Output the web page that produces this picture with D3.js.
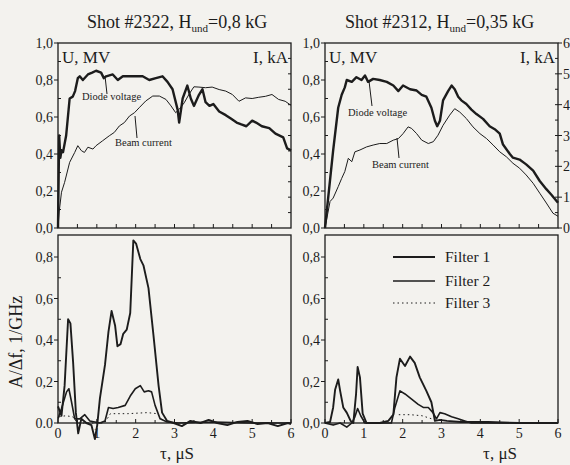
<!DOCTYPE html>
<html>
<head>
<meta charset="utf-8">
<script src="https://cdn.jsdelivr.net/npm/d3@7"></script>
<style>
  body { margin: 0; background: #f3f2ee; }
  text { font-family: "Liberation Serif", "Times New Roman", serif; fill: #1c1c1c; }
</style>
</head>
<body>
<svg id="chart" width="570" height="465"></svg>
<script>
// shot #2322 (H_und = 0,8 kG): [tau us, U MV] and [tau us, I kA]
var volt2322 = [[0,0],[0.03,0.5],[0.06,0.38],[0.09,0.42],[0.13,0.41],[0.21,0.5],[0.3,0.7],[0.38,0.71],[0.44,0.74],[0.51,0.81],[0.56,0.82],[0.64,0.8],[0.77,0.83],[0.88,0.84],[0.98,0.85],[1.11,0.84],[1.18,0.81],[1.24,0.82],[1.41,0.83],[1.54,0.8],[1.67,0.82],[1.84,0.82],[2.01,0.82],[2.18,0.82],[2.35,0.8],[2.52,0.81],[2.69,0.82],[2.82,0.79],[2.95,0.75],[3.08,0.64],[3.12,0.57],[3.21,0.7],[3.33,0.77],[3.42,0.7],[3.5,0.66],[3.63,0.72],[3.72,0.75],[3.8,0.68],[3.9,0.66],[4.0,0.67],[4.15,0.63],[4.32,0.61],[4.46,0.59],[4.6,0.57],[4.72,0.56],[4.85,0.55],[5.0,0.58],[5.1,0.57],[5.25,0.55],[5.44,0.54],[5.6,0.51],[5.8,0.49],[5.9,0.43],[6.0,0.42]];
var curr2322 = [[0,0],[0.03,0.52],[0.09,1.16],[0.17,1.48],[0.3,2.13],[0.43,2.45],[0.51,2.67],[0.6,2.51],[0.68,2.45],[0.77,2.62],[0.9,2.56],[0.98,2.67],[1.15,2.83],[1.32,2.99],[1.45,3.1],[1.58,3.31],[1.71,3.42],[1.84,3.63],[1.97,3.74],[2.09,3.9],[2.26,4.12],[2.44,4.28],[2.61,4.28],[2.78,4.17],[2.91,3.96],[3.03,3.74],[3.12,3.85],[3.25,4.06],[3.38,4.35],[3.5,4.58],[3.63,4.57],[3.8,4.55],[3.97,4.57],[4.15,4.49],[4.32,4.44],[4.49,4.33],[4.66,4.11],[4.83,4.22],[5.0,4.2],[5.17,4.24],[5.34,4.27],[5.51,4.33],[5.68,4.17],[5.85,4.11],[6.0,3.98]];

// shot #2312 (H_und = 0,35 kG)
var volt2312 = [[0,0],[0.21,0.42],[0.34,0.65],[0.43,0.72],[0.51,0.76],[0.56,0.8],[0.69,0.79],[0.81,0.815],[0.94,0.8],[1.03,0.824],[1.11,0.79],[1.24,0.806],[1.41,0.8],[1.59,0.79],[1.76,0.77],[1.89,0.74],[2.01,0.77],[2.19,0.75],[2.36,0.743],[2.49,0.72],[2.61,0.71],[2.74,0.65],[2.83,0.58],[2.89,0.55],[2.96,0.58],[3.04,0.69],[3.17,0.74],[3.26,0.77],[3.34,0.75],[3.43,0.71],[3.51,0.69],[3.64,0.67],[3.77,0.64],[3.9,0.616],[4.07,0.59],[4.24,0.55],[4.37,0.534],[4.5,0.51],[4.58,0.453],[4.76,0.4],[4.84,0.38],[5.01,0.37],[5.18,0.344],[5.36,0.31],[5.53,0.254],[5.7,0.21],[5.83,0.18],[6.0,0.136]];
var curr2312 = [[0,0],[0.13,0.86],[0.21,0.97],[0.34,1.34],[0.43,1.61],[0.51,1.83],[0.6,2.26],[0.69,2.15],[0.77,2.47],[0.9,2.53],[1.07,2.63],[1.24,2.69],[1.41,2.74],[1.59,2.74],[1.76,2.85],[1.89,2.9],[2.01,3.06],[2.14,3.28],[2.23,3.23],[2.36,3.06],[2.49,2.85],[2.66,2.74],[2.79,2.8],[2.91,3.01],[3.04,3.33],[3.21,3.66],[3.34,3.87],[3.47,3.76],[3.64,3.55],[3.81,3.28],[3.99,3.06],[4.16,2.9],[4.33,2.69],[4.5,2.47],[4.67,2.31],[4.84,2.1],[5.01,1.94],[5.18,1.72],[5.36,1.45],[5.53,1.13],[5.7,0.81],[5.87,0.48],[6.0,0.38]];

// microwave signals A/df, 1/GHz
var filt1_2322 = [[0,0.08],[0.09,0.035],[0.17,0.18],[0.26,0.5],[0.32,0.48],[0.39,0.29],[0.46,0.05],[0.52,-0.05],[0.6,0.02],[0.73,0.0],[0.86,-0.01],[0.95,-0.077],[1.01,-0.01],[1.08,0.12],[1.21,0.28],[1.3,0.44],[1.38,0.54],[1.47,0.47],[1.53,0.37],[1.61,0.38],[1.68,0.43],[1.77,0.45],[1.86,0.53],[1.94,0.88],[2.01,0.865],[2.12,0.79],[2.2,0.76],[2.33,0.65],[2.46,0.42],[2.59,0.18],[2.68,0.05],[2.81,0.01],[2.98,0.0],[3.19,-0.015],[3.41,0.01],[3.67,0.0],[3.88,0.015],[4.1,0.0],[4.36,-0.01],[4.62,0.005],[4.88,0.01],[5.14,-0.005],[5.4,0.0],[5.66,-0.015],[5.92,0.0],[6.0,-0.005]];
var filt2_2322 = [[0,0.02],[0.09,0.07],[0.22,0.15],[0.28,0.165],[0.35,0.1],[0.43,0.02],[0.56,0.02],[0.69,0.04],[0.82,0.01],[1.08,0.0],[1.21,0.01],[1.3,0.075],[1.42,0.07],[1.55,0.075],[1.73,0.085],[1.86,0.13],[1.99,0.165],[2.12,0.18],[2.22,0.15],[2.33,0.155],[2.41,0.15],[2.5,0.085],[2.63,0.02],[2.81,0.005],[3.1,0.0],[4.0,0.005],[5.0,0.0],[6.0,0.0]];
var filt3_2322 = [[0.03,0.03],[0.2,0.035],[0.38,0.03],[0.5,0.0],[1.2,0.0],[1.35,0.045],[1.8,0.045],[2.3,0.05],[2.55,0.045],[2.7,0.01]];

var filt1_2312 = [[0,0.0],[0.13,0.005],[0.21,0.075],[0.26,0.16],[0.34,0.21],[0.39,0.155],[0.47,0.075],[0.56,0.05],[0.66,0.01],[0.73,0.0],[0.8,0.14],[0.84,0.27],[0.9,0.22],[0.97,0.045],[1.07,0.0],[1.41,0.0],[1.63,0.01],[1.76,0.04],[1.84,0.22],[1.93,0.31],[2.06,0.275],[2.19,0.32],[2.31,0.29],[2.44,0.22],[2.61,0.155],[2.74,0.1],[2.83,0.01],[2.96,0.015],[3.14,0.01],[3.5,0.005],[4.2,0.005],[5.0,0.0],[6.0,0.0]];
var filt2_2312 = [[0,0.0],[0.21,-0.01],[0.39,0.0],[0.56,-0.02],[0.69,0.0],[0.77,0.03],[0.84,0.07],[0.92,0.035],[1.03,0.0],[1.41,0.0],[1.71,0.0],[1.8,0.075],[1.93,0.155],[2.06,0.14],[2.23,0.115],[2.4,0.09],[2.53,0.075],[2.66,0.075],[2.78,0.05],[2.87,0.02],[2.96,0.05],[3.08,0.045],[3.26,0.03],[3.43,0.02],[3.6,0.01],[3.77,0.0],[6.0,0.0]];
var filt3_2312 = [[1.9,0.04],[2.2,0.04],[2.5,0.035],[2.75,0.02]];

var titles = ["Shot #2322, H", "Shot #2312, H"];
var fields = ["=0,8 kG", "=0,35 kG"];
var uTicks = [0, 0.2, 0.4, 0.6, 0.8, 1.0];
var iTicks = [0, 1, 2, 3, 4, 5, 6];
var aTicks = [0, 0.2, 0.4, 0.6, 0.8];
var tTicks = [0, 1, 2, 3, 4, 5, 6];
var legendNames = ["Filter 1", "Filter 2", "Filter 3"];

var svg = d3.select("#chart")
var ink = "#1c1c1c"
var serif = "'Liberation Serif', 'Times New Roman', serif"
var comma = function(v) { return d3.format(".1f")(v).replace(".", ",") }

var cols = [[58, 291], [325, 558]]
var topY = [228, 43]
var botY = [423, 257]
var botTop = 235

function label(x, y, size, str) {
    return svg.append("text").attr("x", x).attr("y", y).attr("font-size", size).attr("font-family", serif).text(str)
}

function frame(x, y0, y1) {
    svg.append("rect").attr("x", x.range()[0]).attr("y", y1).attr("width", x.range()[1] - x.range()[0]).attr("height", y0 - y1)
        .attr("fill", "none").attr("stroke", ink).attr("stroke-width", 1.3)
}

function tick(x1, y1, x2, y2) {
    svg.append("line").attr("x1", x1).attr("y1", y1).attr("x2", x2).attr("y2", y2).attr("stroke", ink).attr("stroke-width", 1)
}

function curve(data, x, y, w, dash) {
    var line = d3.line().x(function(d) { return x(d[0]) }).y(function(d) { return y(d[1]) })
    svg.append("path").attr("d", line(data)).attr("fill", "none").attr("stroke", ink)
        .attr("stroke-width", w).attr("stroke-linejoin", "round").attr("stroke-dasharray", dash || null)
}

// ---------- top panels ----------
var topData = [[volt2322, curr2322], [volt2312, curr2312]]
cols.forEach(function(c, k) {
    var x = d3.scaleLinear().domain([0, 6]).range(c)
    var y = d3.scaleLinear().domain([0, 1]).range(topY)
    var yI = d3.scaleLinear().domain([0, 6]).range(topY)
    frame(x, topY[0], topY[1])

    uTicks.forEach(function(v) {
        tick(c[0] - 4, y(v), c[0], y(v))
        label(c[0] - 5, y(v) + 5, 14, comma(v)).attr("text-anchor", "end")
    })
    d3.range(0.1, 1, 0.2).forEach(function(v) { tick(c[0], y(v), c[0] + 3, y(v)) })
    d3.range(0.5, 6, 0.5).forEach(function(v) { tick(x(v), topY[0], x(v), topY[0] - 4) })
    d3.range(0.5, 6, 0.5).forEach(function(v) { tick(c[1], yI(v), c[1] - 3, yI(v)) })
    if (k === 1) {
        iTicks.forEach(function(v) {
            tick(c[1], yI(v), c[1] + 4, yI(v))
            label(c[1] + 5, yI(v) + 5, 14, v)
        })
    }

    label(c[0] + 4, 63, 17, "U, MV")
    label(c[1] - 3, 63, 17, "I, kA").attr("text-anchor", "end")

    var t = label(k === 0 ? 87 : 345, 28, 18, null)
    t.append("tspan").text(titles[k])
    t.append("tspan").attr("font-size", 11).attr("dy", 4).text("und")
    t.append("tspan").attr("dy", -4).text(fields[k])

    curve(topData[k][1], x, yI, 1)
    curve(topData[k][0], x, y, 2.4)
})

// annotations with leader lines
var notes = [
    { x: 82, y: 100, text: "Diode voltage", lx: [105, 107], ly: [76, 94] },
    { x: 115, y: 146, text: "Beam current", lx: [135, 137], ly: [116, 138] },
    { x: 348, y: 116, text: "Diode voltage", lx: [369, 372], ly: [81, 106] },
    { x: 372, y: 168, text: "Beam current", lx: [397, 399], ly: [138, 158] }
]
notes.forEach(function(n) {
    tick(n.lx[0], n.ly[0], n.lx[1], n.ly[1])
    label(n.x, n.y, 10.5, n.text)
})

// ---------- bottom panels ----------
var botData = [[filt1_2322, filt2_2322, filt3_2322], [filt1_2312, filt2_2312, filt3_2312]]
cols.forEach(function(c, k) {
    var x = d3.scaleLinear().domain([0, 6]).range(c)
    var y = d3.scaleLinear().domain([0, 0.8]).range(botY)
    frame(x, botY[0], botTop)

    aTicks.forEach(function(v) {
        tick(c[0] - 4, y(v), c[0], y(v))
        label(c[0] - 5, y(v) + 5, 14, v === 0 && k === 0 ? "0.0" : comma(v)).attr("text-anchor", "end")
    })
    d3.range(0.1, 0.9, 0.2).forEach(function(v) { tick(c[0], y(v), c[0] + 3, y(v)) })
    tTicks.forEach(function(v) {
        tick(x(v), botY[0], x(v), botY[0] - 4)
        label(x(v), botY[0] + 15, 14, v).attr("text-anchor", "middle")
    })
    d3.range(0.5, 6, 1).forEach(function(v) { tick(x(v), botY[0], x(v), botY[0] - 3) })

    label(k === 0 ? 177 : 500, 459, 17, "\u03c4, \u03bcS").attr("text-anchor", "middle")

    curve(botData[k][2], x, y, 1, "1.5,3")
    curve(botData[k][1], x, y, 1.6)
    curve(botData[k][0], x, y, 1.9)
})

label(0, 0, 18, "A/\u0394f, 1/GHz").attr("transform", "translate(22,342) rotate(-90)").attr("text-anchor", "middle")

// legend
var legY = [257, 281, 303]
var legW = [1.9, 1.6, 1]
legendNames.forEach(function(name, i) {
    svg.append("line").attr("x1", 393).attr("x2", 435).attr("y1", legY[i]).attr("y2", legY[i])
        .attr("stroke", ink).attr("stroke-width", legW[i]).attr("stroke-dasharray", i === 2 ? "1.5,3" : null)
    label(445, legY[i] + 5, 15.5, name)
})
</script>
</body>
</html>
